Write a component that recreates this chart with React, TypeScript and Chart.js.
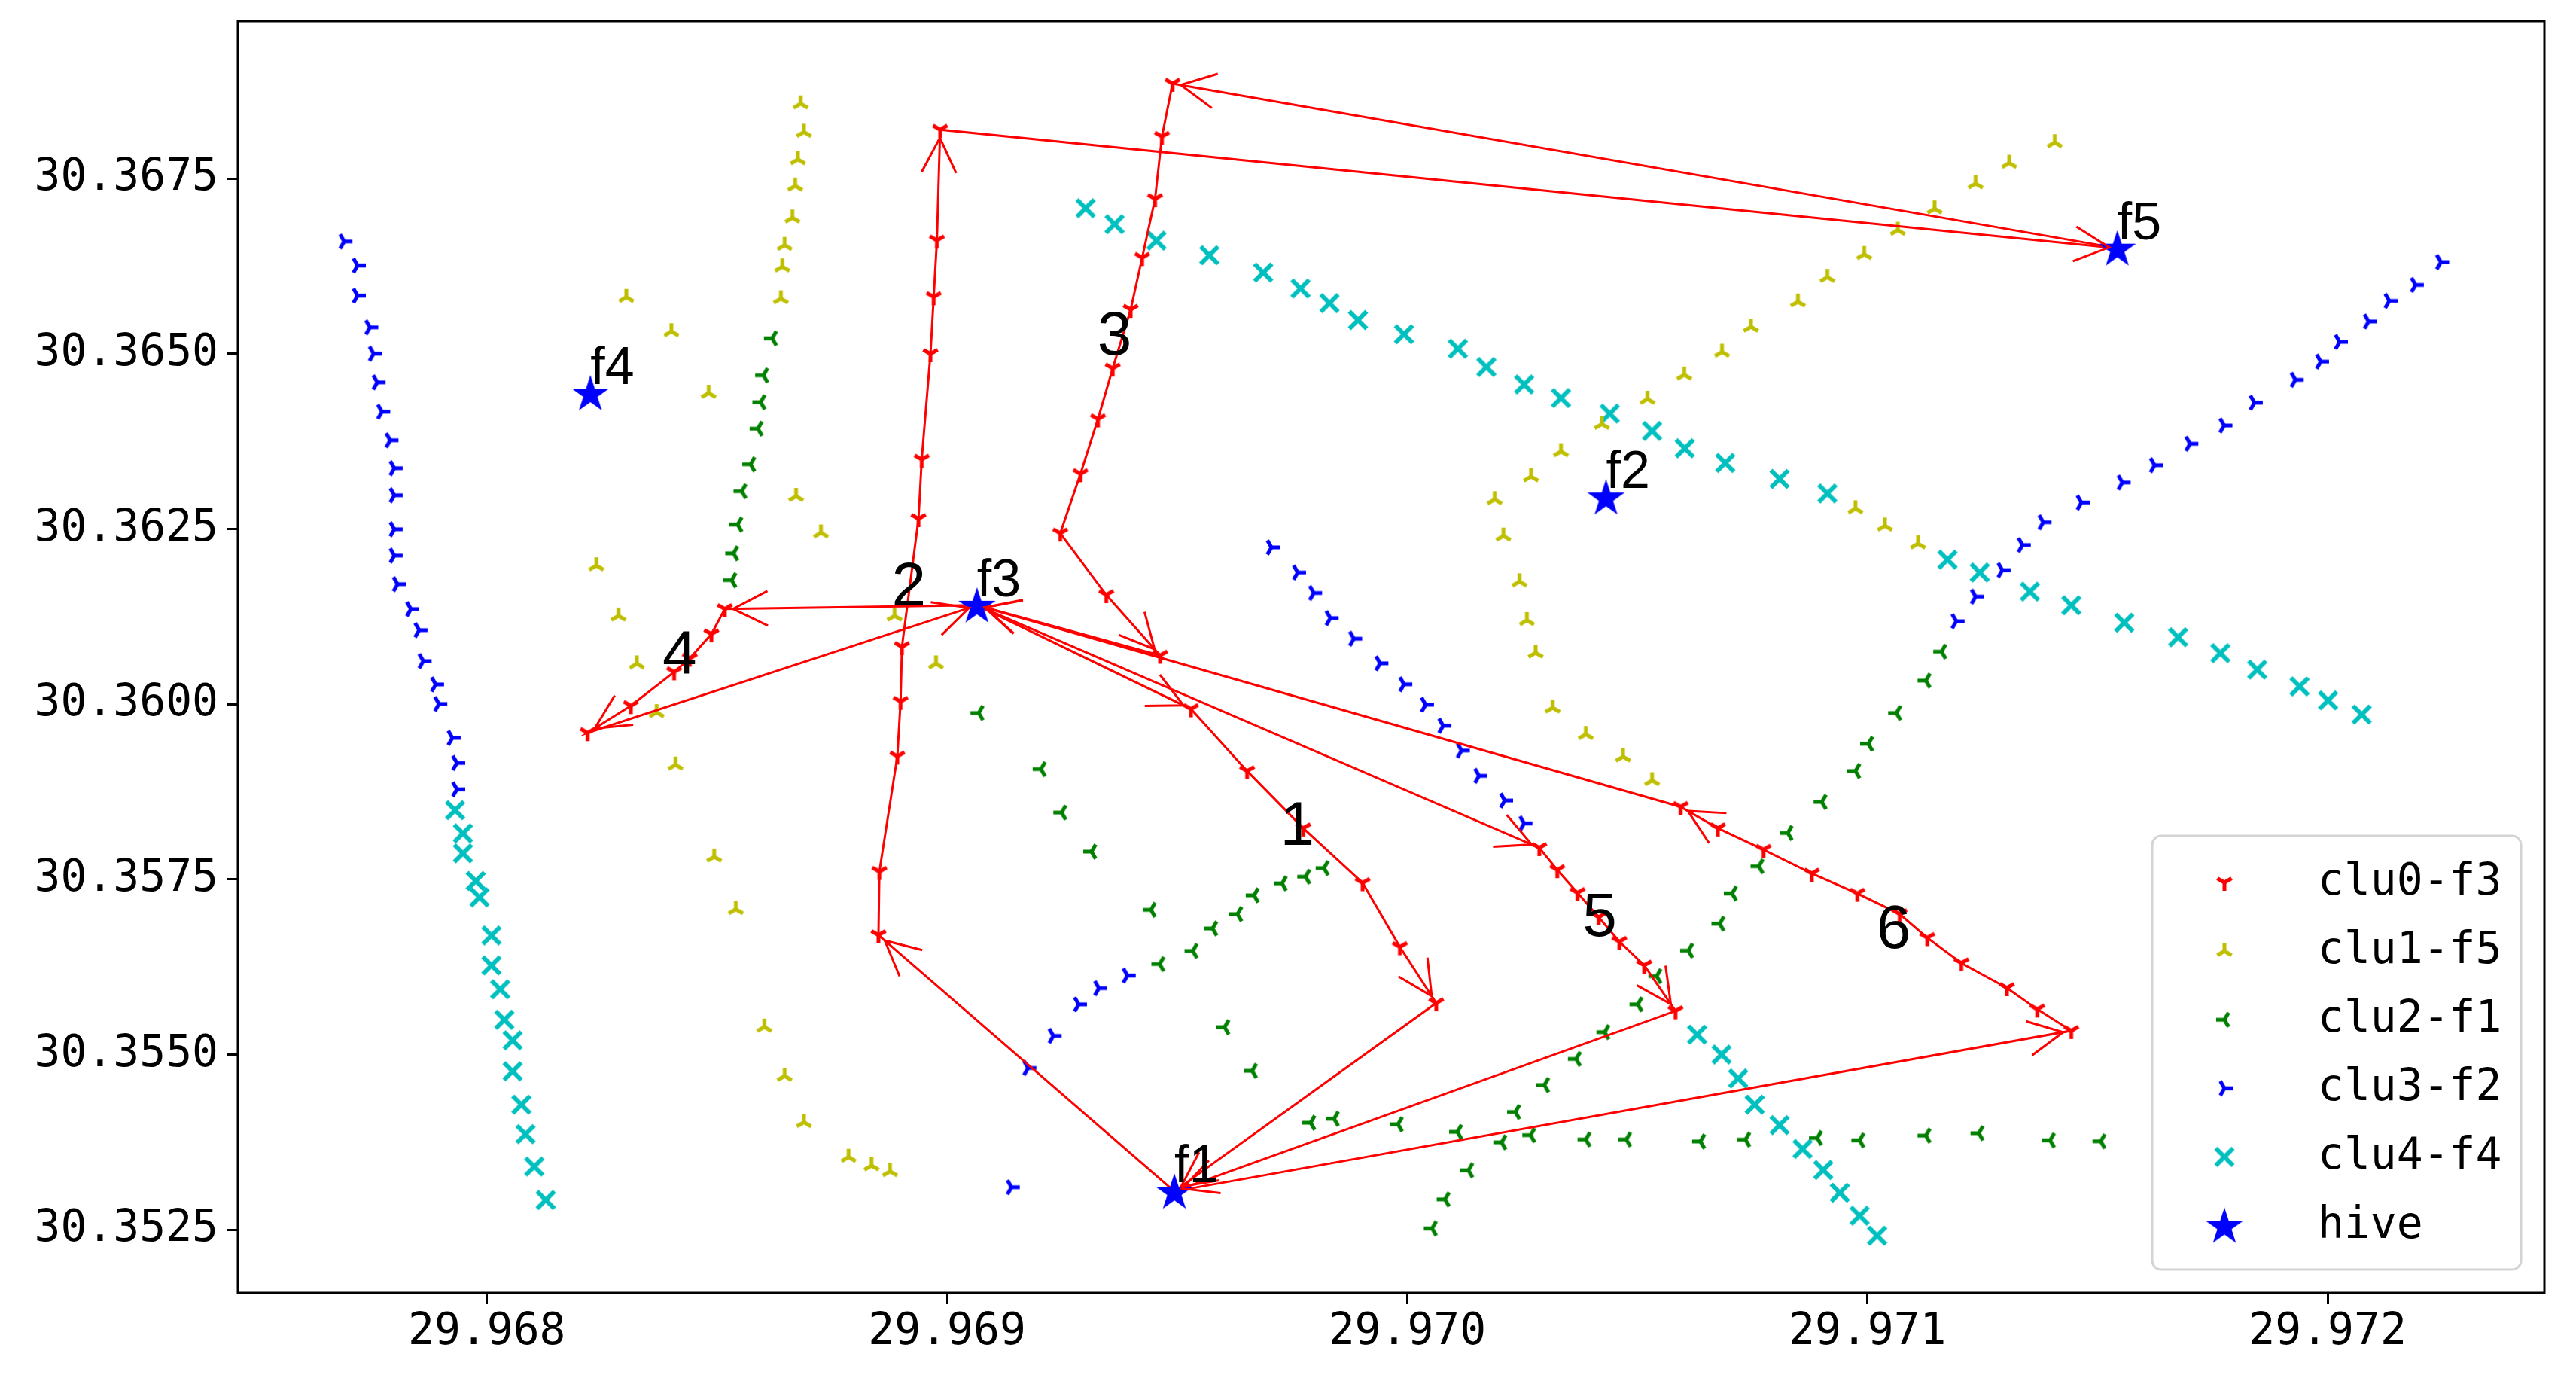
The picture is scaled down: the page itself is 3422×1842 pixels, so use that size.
import React, { useEffect, useRef } from "react";
import { Chart, registerables } from "chart.js";

Chart.register(...registerables);

// ---------- axes ----------
const xTicks = [29.968, 29.969, 29.97, 29.971, 29.972];
const yTicks = [30.3525, 30.355, 30.3575, 30.36, 30.3625, 30.365, 30.3675];
const xRange = [29.967459, 29.972471];
const yRange = [30.351599, 30.369747];

// ---------- hives ----------
const hiveNames = ["f1", "f2", "f3", "f4", "f5"];
const hiveX = [29.969494, 29.970432, 29.969065, 29.968225, 29.971543];
const hiveY = [30.353048, 30.362954, 30.361411, 30.364439, 30.366506];

// ---------- clu0-f3 routes ----------
const routeNames = ["1", "2", "3", "4", "5", "6"];
const routeFrom = ["f3", "f1", "f5", "f3", "f3", "f1"];
const routeTo = ["f1", "f5", "f3", "f3", "f1", "f3"];
const routeLabelX = [29.969761, 29.968917, 29.969364, 29.968419, 29.970418, 29.971057];
const routeLabelY = [30.358304, 30.361722, 30.365297, 30.360744, 30.357009, 30.356836];

const route1X = [29.96953, 29.969652, 29.969774, 29.969903, 29.969984, 29.970063];
const route1Y = [30.359931, 30.359046, 30.35823, 30.35745, 30.356536, 30.355735];
const route2X = [29.968851, 29.968853, 29.968892, 29.968899, 29.968902, 29.968938, 29.968945, 29.968964, 29.968971, 29.968978, 29.968985];
const route2Y = [30.356705, 30.35761, 30.359256, 30.360037, 30.360818, 30.362645, 30.363492, 30.364998, 30.365811, 30.366618, 30.368198];
const route3X = [29.96949, 29.969467, 29.969452, 29.969424, 29.969399, 29.96936, 29.969328, 29.96929, 29.969246, 29.969346, 29.969463];
const route3Y = [30.368856, 30.368099, 30.36721, 30.366371, 30.365631, 30.364791, 30.364068, 30.363286, 30.362438, 30.361559, 30.360695];
const route4X = [29.968517, 29.968488, 29.968441, 29.968407, 29.968313, 29.968219];
const route4Y = [30.361358, 30.361, 30.360653, 30.360459, 30.359977, 30.35959];
const route5X = [29.970287, 29.970326, 29.97037, 29.970416, 29.970461, 29.970515, 29.970583];
const route5Y = [30.35795, 30.357635, 30.357308, 30.356961, 30.356611, 30.356273, 30.355622];
const route6X = [29.971443, 29.971369, 29.971303, 29.971204, 29.97113, 29.97107, 29.970978, 29.970879, 29.970774, 29.970675, 29.970594];
const route6Y = [30.35534, 30.355646, 30.355951, 30.356305, 30.356666, 30.357006, 30.357298, 30.357584, 30.357924, 30.35823, 30.358535];

// ---------- clu1-f5 (yellow) ----------
const clu1X = [
  29.968682, 29.968689, 29.968676, 29.96867, 29.968664, 29.968647, 29.968642, 29.968639,
  29.968303, 29.968401, 29.968482, 29.968672, 29.968726, 29.968238, 29.968286, 29.968326,
  29.968369, 29.96841, 29.968494, 29.968541, 29.968603, 29.968647, 29.968689, 29.968786,
  29.968836, 29.968876, 29.968886, 29.968976,
  29.971407, 29.971308, 29.971235, 29.971146, 29.971066, 29.970993, 29.970913, 29.970849,
  29.970747, 29.970684, 29.970602, 29.970522, 29.970423, 29.970334, 29.970269, 29.97019,
  29.970209, 29.970244, 29.97026, 29.970279, 29.970316, 29.970388, 29.970469, 29.970532,
  29.970974, 29.971038, 29.97111,
];
const clu1Y = [
  30.368569, 30.368164, 30.367773, 30.367396, 30.36694, 30.366549, 30.366242, 30.365787,
  30.365807, 30.365318, 30.364439, 30.362967, 30.362446, 30.361977, 30.36126, 30.360577,
  30.359882, 30.359134, 30.357822, 30.357073, 30.355394, 30.354694, 30.354034, 30.353537,
  30.353415, 30.353333, 30.36126, 30.360577,
  30.368015, 30.367721, 30.367428, 30.36707, 30.366764, 30.366419, 30.366093, 30.365742,
  30.365384, 30.365025, 30.3647, 30.364354, 30.363996, 30.363606, 30.363247, 30.362921,
  30.362401, 30.361749, 30.361196, 30.360733, 30.359949, 30.359569, 30.35925, 30.358911,
  30.362791, 30.362544, 30.36229,
];

// ---------- clu2-f1 (green) ----------
const clu2X = [
  29.96862, 29.968601, 29.968595, 29.968589, 29.968573, 29.968554, 29.968545, 29.968536, 29.968532,
  29.969069, 29.969204, 29.969249, 29.969314, 29.969443, 29.969603, 29.969663,
  29.969819, 29.969779, 29.969728, 29.969667, 29.969631, 29.969577, 29.969534, 29.969462,
  29.96979, 29.969841, 29.96998, 29.970109, 29.970268, 29.970388, 29.970476, 29.970637,
  29.970735, 29.970891, 29.970983, 29.971127, 29.971242, 29.971397, 29.971507,
  29.970054, 29.970082, 29.970133, 29.970205, 29.970235, 29.970298, 29.970367, 29.970429,
  29.970501, 29.970542, 29.970611, 29.970679, 29.970706, 29.970764, 29.970827, 29.970901,
  29.970974, 29.971002, 29.971063, 29.971127, 29.971161,
];
const clu2Y = [
  30.36522, 30.364692, 30.364309, 30.363931, 30.363423, 30.363038, 30.362563, 30.362152, 30.361769,
  30.359874, 30.359073, 30.358453, 30.357896, 30.357065, 30.355391, 30.354768,
  30.357661, 30.357538, 30.357442, 30.357272, 30.357004, 30.356799, 30.356479, 30.356291,
  30.354027, 30.354084, 30.354005, 30.353897, 30.353849, 30.353788, 30.353788, 30.35376,
  30.353786, 30.353809, 30.353776, 30.353843, 30.353878, 30.353776, 30.353762,
  30.352519, 30.352933, 30.353348, 30.353747, 30.354181, 30.354565, 30.354937, 30.35532,
  30.355716, 30.356118, 30.356483, 30.356867, 30.357299, 30.357686, 30.358162, 30.358604,
  30.359046, 30.359434, 30.359874, 30.360336, 30.36075,
];

// ---------- clu3-f2 (blue) ----------
const clu3X = [
  29.96769, 29.967719, 29.967719, 29.967746, 29.967754, 29.967762, 29.967772, 29.96779,
  29.967799, 29.967799, 29.967799, 29.967799, 29.967806, 29.967835, 29.967853, 29.967862,
  29.967889, 29.967896, 29.967925, 29.967935, 29.967935,
  29.969176, 29.969231, 29.969286, 29.96933, 29.969392, 29.96914,
  29.969705, 29.969762, 29.969797, 29.969833, 29.969884, 29.969941, 29.969993, 29.97004,
  29.970078, 29.970118, 29.970156, 29.970212, 29.970254,
  29.971193, 29.971235, 29.971293, 29.971337, 29.971382, 29.971465, 29.971554, 29.971624,
  29.971701, 29.971775, 29.971841, 29.97193, 29.971985, 29.972026, 29.972089, 29.972134,
  29.972191, 29.972246,
];
const clu3Y = [
  30.366602, 30.366259, 30.365829, 30.365377, 30.365001, 30.364592, 30.364173, 30.363765,
  30.363367, 30.36298, 30.362496, 30.36212, 30.361712, 30.361357, 30.361056, 30.360615,
  30.360282, 30.360003, 30.359519, 30.359161, 30.358785,
  30.354807, 30.355267, 30.355716, 30.355946, 30.356127, 30.353106,
  30.362237, 30.361879, 30.361586, 30.361228, 30.360934, 30.360583, 30.360283, 30.359992,
  30.359692, 30.359338, 30.358978, 30.358625, 30.358298,
  30.361183, 30.361534, 30.361912, 30.362271, 30.362595, 30.362876, 30.363163, 30.36341,
  30.363716, 30.363977, 30.364302, 30.364628, 30.364888, 30.365169, 30.365461, 30.365754,
  30.365982, 30.366308,
];

// ---------- clu4-f4 (cyan) ----------
const clu4X = [
  29.967931, 29.967948, 29.967948, 29.967976, 29.967984, 29.96801, 29.96801, 29.968029,
  29.968038, 29.968056, 29.968056, 29.968075, 29.968084, 29.968103, 29.968128,
  29.969301, 29.969364, 29.969455, 29.96957, 29.969687, 29.969768, 29.969831, 29.969893,
  29.969993, 29.97011, 29.970172, 29.970254, 29.970334, 29.97044, 29.970532, 29.970603,
  29.970691, 29.970809, 29.970913, 29.971174, 29.971244, 29.971353, 29.971443, 29.971558,
  29.971675, 29.971767, 29.971847, 29.971939, 29.972001, 29.972074,
  29.97063, 29.970683, 29.970719, 29.970755, 29.970809, 29.970859, 29.970904, 29.97094,
  29.970983, 29.971021,
];
const clu4Y = [
  30.358487, 30.358157, 30.357871, 30.357477, 30.357243, 30.356699, 30.356272, 30.355931,
  30.355496, 30.355203, 30.354761, 30.354285, 30.353864, 30.353402, 30.352925,
  30.367077, 30.366849, 30.366614, 30.366406, 30.366159, 30.365931, 30.365722, 30.365481,
  30.365279, 30.365071, 30.364811, 30.364562, 30.364368, 30.364146, 30.363898, 30.363651,
  30.363442, 30.363214, 30.363006, 30.362062, 30.361879, 30.361606, 30.361411, 30.361162,
  30.360955, 30.360728, 30.360493, 30.360253, 30.360054, 30.359852,
  30.355285, 30.355, 30.354659, 30.354285, 30.353993, 30.353653, 30.353353, 30.353028,
  30.352701, 30.352415,
];

const legendLabels = ["clu0-f3", "clu1-f5", "clu2-f1", "clu3-f2", "clu4-f4", "hive"];

const RED = "#ff0000";
const YELLOW = "#bfbf00";
const GREEN = "#008000";
const BLUE = "#0000ff";
const CYAN = "#00bfbf";

function makeMarker(kind: string, color: string): HTMLCanvasElement {
  const S = kind === "star" ? 60 : 34;
  const c = document.createElement("canvas");
  c.width = S;
  c.height = S;
  const g = c.getContext("2d") as CanvasRenderingContext2D;
  const m = S / 2;
  g.strokeStyle = color;
  g.fillStyle = color;
  if (kind === "star") {
    const R = 26;
    const r = R * 0.382;
    g.beginPath();
    for (let i = 0; i < 10; i++) {
      const rad = i % 2 === 0 ? R : r;
      const a = -Math.PI / 2 + (i * Math.PI) / 5;
      const px = m + rad * Math.cos(a);
      const py = m + rad * Math.sin(a) + 2;
      if (i === 0) g.moveTo(px, py);
      else g.lineTo(px, py);
    }
    g.closePath();
    g.fill();
  } else if (kind === "x") {
    g.lineWidth = 6;
    const h = 11.5;
    g.beginPath();
    g.moveTo(m - h, m - h);
    g.lineTo(m + h, m + h);
    g.moveTo(m + h, m - h);
    g.lineTo(m - h, m + h);
    g.stroke();
  } else {
    const baseMap: Record<string, number> = { triDown: 90, triUp: -90, triLeft: 180, triRight: 0 };
    const base = baseMap[kind];
    g.lineWidth = 5;
    const r = 11;
    [0, 120, 240].forEach((a) => {
      const t = ((base + a) * Math.PI) / 180;
      g.beginPath();
      g.moveTo(m, m);
      g.lineTo(m + r * Math.cos(t), m + r * Math.sin(t));
      g.stroke();
    });
  }
  return c;
}

function drawArrowHead(ctx: CanvasRenderingContext2D, from: any, to: any) {
  const dx = to.x - from.x;
  const dy = to.y - from.y;
  const d = Math.hypot(dx, dy);
  if (d < 1) return;
  const ux = dx / d;
  const uy = dy / d;
  const shrink = 11;
  const len = 46;
  const hw = 23;
  const tx = to.x - ux * shrink;
  const ty = to.y - uy * shrink;
  const bx = tx - ux * len;
  const by = ty - uy * len;
  const px = -uy;
  const py = ux;
  ctx.beginPath();
  ctx.moveTo(bx + px * hw, by + py * hw);
  ctx.lineTo(tx, ty);
  ctx.lineTo(bx - px * hw, by - py * hw);
  ctx.stroke();
}

export default function App() {
  const ref = useRef<HTMLCanvasElement | null>(null);

  useEffect(() => {
    if (!ref.current) return;
    const mk = {
      red: makeMarker("triDown", RED),
      yellow: makeMarker("triUp", YELLOW),
      green: makeMarker("triLeft", GREEN),
      blue: makeMarker("triRight", BLUE),
      cyan: makeMarker("x", CYAN),
      star: makeMarker("star", BLUE),
    };
    const legendImgs = [mk.red, mk.yellow, mk.green, mk.blue, mk.cyan, mk.star];

    const hiveIdx = (n: string) => hiveNames.indexOf(n);
    const routesX = [route1X, route2X, route3X, route4X, route5X, route6X];
    const routesY = [route1Y, route2Y, route3Y, route4Y, route5Y, route6Y];

    const toPts = (xs: number[], ys: number[]) => xs.map((x, i) => ({ x, y: ys[i] }));

    const datasets: any[] = [];
    const routeDsIdx: number[] = [];
    routesX.forEach((rx, i) => {
      const s = hiveIdx(routeFrom[i]);
      const e = hiveIdx(routeTo[i]);
      const data = [
        { x: hiveX[s], y: hiveY[s] },
        ...toPts(rx, routesY[i]),
        { x: hiveX[e], y: hiveY[e] },
      ];
      routeDsIdx.push(datasets.length);
      datasets.push({
        label: i === 0 ? legendLabels[0] : "route" + routeNames[i],
        data,
        showLine: true,
        borderColor: RED,
        backgroundColor: RED,
        borderWidth: 3,
        pointStyle: mk.red,
        pointRadius: (c: any) =>
          c.dataIndex === 0 || c.dataIndex === c.dataset.data.length - 1 ? 0 : 10,
        order: 2,
      });
    });

    const clu = (label: string, xs: number[], ys: number[], img: HTMLCanvasElement) => ({
      label,
      data: toPts(xs, ys),
      showLine: false,
      pointStyle: img,
      pointRadius: 10,
      borderColor: "transparent",
      backgroundColor: "transparent",
      order: 5,
    });
    datasets.push(clu(legendLabels[1], clu1X, clu1Y, mk.yellow));
    datasets.push(clu(legendLabels[2], clu2X, clu2Y, mk.green));
    datasets.push(clu(legendLabels[3], clu3X, clu3Y, mk.blue));
    datasets.push(clu(legendLabels[4], clu4X, clu4Y, mk.cyan));
    datasets.push({
      label: legendLabels[5],
      data: toPts(hiveX, hiveY),
      showLine: false,
      pointStyle: mk.star,
      pointRadius: 12,
      borderColor: "transparent",
      backgroundColor: "transparent",
      order: 1,
    });

    const annotPlugin = {
      id: "annot",
      afterDatasetsDraw(chart: any) {
        const ctx: CanvasRenderingContext2D = chart.ctx;
        const xs = chart.scales.x;
        const ys = chart.scales.y;
        const ca = chart.chartArea;
        ctx.save();
        ctx.strokeStyle = RED;
        ctx.lineWidth = 3;
        ctx.lineJoin = "miter";
        routeDsIdx.forEach((di) => {
          const pts = chart.getDatasetMeta(di).data;
          const n = pts.length;
          drawArrowHead(ctx, pts[0], pts[1]);
          drawArrowHead(ctx, pts[n - 3], pts[n - 2]);
          drawArrowHead(ctx, pts[n - 2], pts[n - 1]);
        });
        ctx.fillStyle = "#000";
        ctx.font = '82px "Liberation Sans", "DejaVu Sans", sans-serif';
        ctx.textAlign = "center";
        ctx.textBaseline = "alphabetic";
        routeNames.forEach((t, i) => {
          const px = xs.getPixelForValue(routeLabelX[i]);
          const py = ys.getPixelForValue(routeLabelY[i]);
          ctx.fillText(t, px, py + 29);
        });
        ctx.font = '70px "Liberation Sans", "DejaVu Sans", sans-serif';
        ctx.textAlign = "left";
        hiveNames.forEach((t, i) => {
          const px = xs.getPixelForValue(hiveX[i]);
          const py = ys.getPixelForValue(hiveY[i]);
          ctx.fillText(t, px, py - 12);
        });
        ctx.strokeStyle = "#000";
        ctx.lineWidth = 3;
        ctx.strokeRect(ca.left, ca.top, ca.right - ca.left, ca.bottom - ca.top);
        ctx.restore();
      },
      afterDraw(chart: any) {
        const ctx: CanvasRenderingContext2D = chart.ctx;
        const ca = chart.chartArea;
        const bw = 490;
        const bh = 576;
        const bx = ca.right - 31 - bw;
        const by = ca.bottom - 31 - bh;
        ctx.save();
        ctx.beginPath();
        (ctx as any).roundRect(bx, by, bw, bh, 12);
        ctx.fillStyle = "rgba(255,255,255,0.8)";
        ctx.fill();
        ctx.strokeStyle = "#d4d4d4";
        ctx.lineWidth = 3;
        ctx.stroke();
        ctx.fillStyle = "#000";
        ctx.font = '58px "DejaVu Sans Mono", monospace';
        ctx.textAlign = "left";
        ctx.textBaseline = "alphabetic";
        legendLabels.forEach((lab, i) => {
          const rowY = by + 62 + i * 91.1;
          const img = legendImgs[i];
          ctx.drawImage(img, bx + 96 - img.width / 2, rowY - img.height / 2);
          ctx.fillText(lab, bx + 220, rowY + 16);
        });
        ctx.restore();
      },
    };

    const tickFont = { family: '"DejaVu Sans Mono", monospace', size: 58 };

    const chart = new Chart(ref.current, {
      type: "scatter",
      data: { datasets },
      options: {
        responsive: false,
        animation: false,
        devicePixelRatio: 1,
        events: [],
        layout: { padding: { left: 0, top: 28, right: 42, bottom: 0 } },
        plugins: { legend: { display: false }, tooltip: { enabled: false } },
        scales: {
          x: {
            type: "linear",
            min: xRange[0],
            max: xRange[1],
            afterBuildTicks: (ax: any) => {
              ax.ticks = xTicks.map((v) => ({ value: v }));
            },
            afterFit: (s: any) => {
              s.height = 125;
              s.paddingLeft = 0;
              s.paddingRight = 0;
              s.paddingTop = 0;
              s.paddingBottom = 0;
            },
            ticks: {
              callback: (v: any) => Number(v).toFixed(3),
              font: tickFont,
              color: "#000",
              padding: 3,
              maxRotation: 0,
              autoSkip: false,
            },
            grid: {
              display: true,
              drawOnChartArea: false,
              drawTicks: true,
              tickLength: 15,
              tickWidth: 3,
              tickColor: "#000",
            },
            border: { display: false },
          },
          y: {
            type: "linear",
            min: yRange[0],
            max: yRange[1],
            afterBuildTicks: (ax: any) => {
              ax.ticks = yTicks.map((v) => ({ value: v }));
            },
            afterFit: (s: any) => {
              s.width = 316;
              s.paddingLeft = 0;
              s.paddingRight = 0;
              s.paddingTop = 0;
              s.paddingBottom = 0;
            },
            ticks: {
              callback: (v: any) => Number(v).toFixed(4),
              font: tickFont,
              color: "#000",
              padding: 11,
              autoSkip: false,
            },
            grid: {
              display: true,
              drawOnChartArea: false,
              drawTicks: true,
              tickLength: 15,
              tickWidth: 3,
              tickColor: "#000",
            },
            border: { display: false },
          },
        },
      } as any,
      plugins: [annotPlugin],
    });

    return () => chart.destroy();
  }, []);

  return (
    <div style={{ position: "absolute", left: 0, top: 0, width: 3422, height: 1842, background: "#fff" }}>
      <canvas ref={ref} width={3422} height={1842} style={{ display: "block" }} />
    </div>
  );
}
